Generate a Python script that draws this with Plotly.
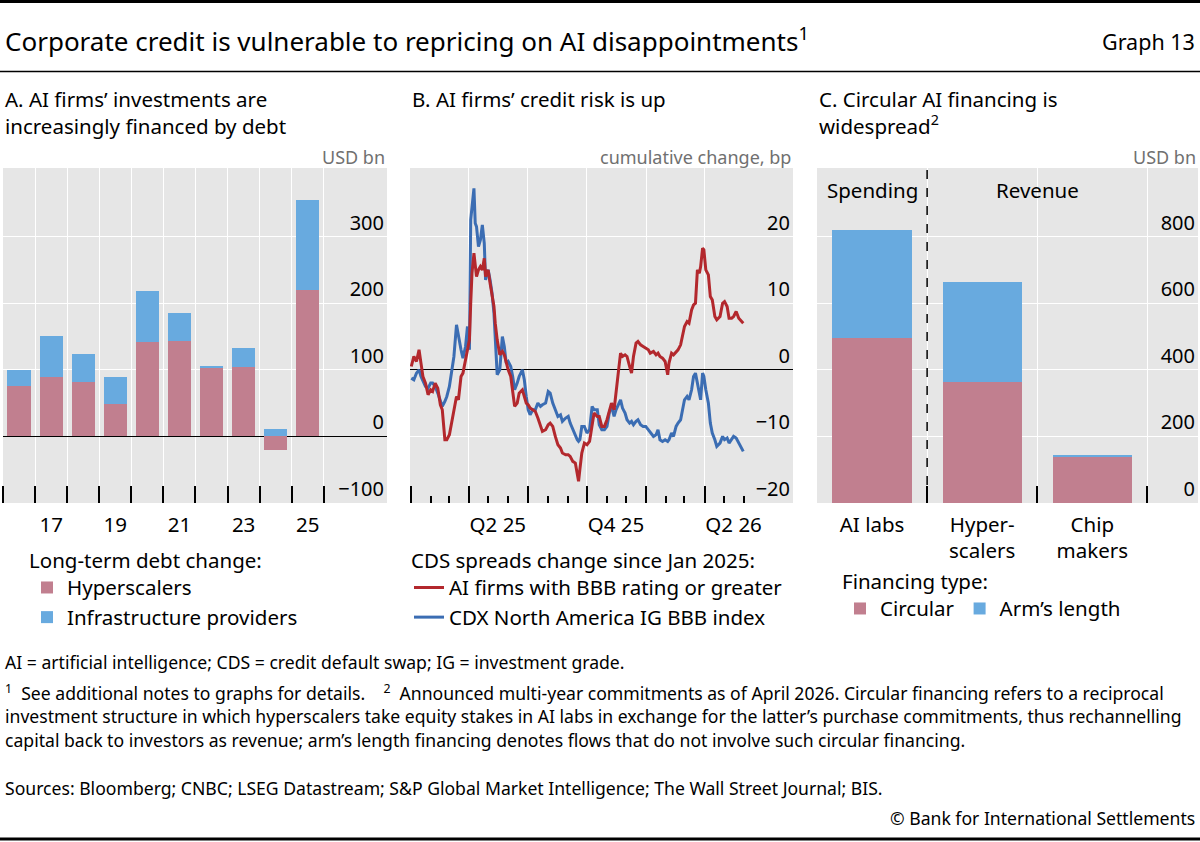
import plotly.graph_objects as go

W, H = 1200, 842
FONT = "Noto Sans"
PINK = "#c17f8f"
LIGHT_BLUE = "#68aadf"
RED = "#b3282d"
BLUE = "#3b6db3"
GREY_BG = "#e6e6e6"
UNIT_GREY = "#707070"

# ---------- Panel A: long-term debt change, USD bn ----------
years = [2016, 2017, 2018, 2019, 2020, 2021, 2022, 2023, 2024, 2025]
hyperscalers = [76, 89, 81, 48, 142, 144, 104, 104, -21, 220]
infra_providers = [24, 62, 43, 41, 76, 41, 2, 28, 11, 135]
year_ticks = [2017, 2019, 2021, 2023, 2025]
year_labels = ["17", "19", "21", "23", "25"]
a_yticks = [-100, 0, 100, 200, 300]
a_ylabels = ["\u2212100", "0", "100", "200", "300"]

# ---------- Panel B: CDS spreads, cumulative change since Jan 2025, bp ----------
cds_dates = [
    "2025-01-02", "2025-01-06", "2025-01-10", "2025-01-14", "2025-01-17", "2025-01-20", "2025-01-24",
    "2025-01-28", "2025-02-01", "2025-02-04", "2025-02-08", "2025-02-12", "2025-02-16", "2025-02-19",
    "2025-02-23", "2025-02-26", "2025-03-02", "2025-03-05", "2025-03-09", "2025-03-13", "2025-03-16",
    "2025-03-20", "2025-03-23", "2025-03-27", "2025-03-30", "2025-04-02", "2025-04-04", "2025-04-06",
    "2025-04-09", "2025-04-11", "2025-04-13", "2025-04-16", "2025-04-19", "2025-04-22", "2025-04-25",
    "2025-04-27", "2025-05-01", "2025-05-04", "2025-05-07", "2025-05-10", "2025-05-12", "2025-05-15",
    "2025-05-19", "2025-05-23", "2025-05-26", "2025-05-29", "2025-06-01", "2025-06-05", "2025-06-08",
    "2025-06-11", "2025-06-15", "2025-06-18", "2025-06-23", "2025-06-26", "2025-06-29", "2025-07-02",
    "2025-07-05", "2025-07-09", "2025-07-13", "2025-07-17", "2025-07-21", "2025-07-24", "2025-07-29",
    "2025-08-02", "2025-08-05", "2025-08-09", "2025-08-13", "2025-08-17", "2025-08-21", "2025-08-24",
    "2025-08-29", "2025-09-02", "2025-09-05", "2025-09-09", "2025-09-13", "2025-09-16", "2025-09-18",
    "2025-09-20", "2025-09-23", "2025-09-27", "2025-10-01", "2025-10-05", "2025-10-09", "2025-10-12",
    "2025-10-17", "2025-10-20", "2025-10-24", "2025-10-28",
    "2025-11-01", "2025-11-05", "2025-11-08", "2025-11-12", "2025-11-15", "2025-11-19", "2025-11-22",
    "2025-11-25", "2025-11-29", "2025-12-02", "2025-12-06", "2025-12-09", "2025-12-12", "2025-12-16",
    "2025-12-19", "2025-12-23", "2025-12-27", "2025-12-31", "2026-01-04", "2026-01-07", "2026-01-12",
    "2026-01-16", "2026-01-19", "2026-01-22", "2026-01-26", "2026-01-30", "2026-02-03", "2026-02-05",
    "2026-02-09", "2026-02-12", "2026-02-16", "2026-02-19", "2026-02-23", "2026-02-26", "2026-03-01",
    "2026-03-05", "2026-03-08", "2026-03-12", "2026-03-15", "2026-03-18", "2026-03-21", "2026-03-24",
    "2026-03-26", "2026-03-29", "2026-03-31", "2026-04-03", "2026-04-07", "2026-04-10", "2026-04-13",
    "2026-04-17", "2026-04-20", "2026-04-25", "2026-04-29", "2026-05-02", "2026-05-06", "2026-05-09",
    "2026-05-13", "2026-05-16", "2026-05-20", "2026-05-24", "2026-05-28", "2026-05-31",
]
ai_firms_bbb = [
    0.5, 2.0, 1.25, 3.0, 1.0, -1.0, -2.0, -3.75, -3.0, -3.25,
    -2.0, -2.75, -5.25, -6.0, -10.5, -10.5, -9.75, -8.0, -6.0, -4.0,
    -4.5, -1.0, -0.5, 1.5, 3.0, 4.5, 10.0, 14.5, 17.5, 16.0,
    14.0, 15.0, 15.5, 15.0, 16.75, 14.0, 15.0, 13.0, 11.5, 9.5,
    7.0, 4.5, 2.25, 2.75, 2.25, 1.0, 0.0, -1.0, -3.0, -5.5,
    -5.0, -3.5, -3.0, -4.0, -5.0, -5.25, -5.75, -6.0, -6.25, -7.25,
    -8.5, -9.25, -9.0, -8.25, -8.0, -8.5, -10.0, -11.25, -11.75, -12.5,
    -12.75, -12.75, -13.0, -13.75, -14.0, -15.5, -16.75, -15.0, -12.5, -11.0,
    -11.25, -10.75, -8.0, -6.5, -7.0, -7.0, -8.5, -8.5,
    -7.5, -6.0, -5.0, -6.0, -3.0, 0.0, 2.5, 2.0, 2.25, 2.0,
    0.5, -0.5, 2.0, 4.0, 4.25, 3.75, 3.5, 3.25, 3.0, 2.5,
    2.75, 2.25, 2.5, 2.0, 1.75, 1.25, -0.75, 1.0, 2.5, 2.25,
    2.75, 3.0, 3.75, 5.0, 6.5, 7.25, 7.0, 9.0, 9.75, 10.0,
    15.0, 14.5, 15.5, 18.25, 18.0, 15.0, 14.25, 11.0, 10.5, 8.0,
    7.5, 8.0, 10.0, 10.25, 9.5, 7.75, 7.75, 8.0, 8.75, 7.75,
    7.25, 7.0,
]
cdx_ig_bbb = [
    -1.25, -1.5, -0.5, 0.0, -1.0, -1.75, -2.5, -2.75, -2.0, -2.0,
    -2.5, -3.5, -4.5, -5.5, -4.75, -4.0, -2.5, -0.75, 2.0, 6.75,
    5.0, 3.0, 1.75, 3.5, 6.5, 3.0, 22.5, 24.5, 27.25, 22.0,
    21.5, 18.5, 19.5, 21.75, 19.0, 13.5, 15.0, 13.5, 11.5, 8.5,
    4.0, -0.75, 0.0, 5.0, 3.5, 1.0, 1.25, 0.5, -1.0, -3.0,
    -2.0, -1.0, 0.0, -1.5, -4.0, -6.0, -6.75, -6.0, -6.0, -5.0,
    -5.5, -5.25, -5.0, -3.25, -3.5, -5.0, -6.0, -7.0, -6.75, -7.75,
    -7.25, -7.0, -8.0, -9.0, -10.0, -10.5, -10.75, -10.5, -8.5, -8.5,
    -9.5, -9.0, -5.5, -6.0, -6.0, -8.25, -9.0, -9.0,
    -8.5, -6.25, -5.5, -7.0, -6.0, -5.0, -4.5, -5.75, -6.5, -7.5,
    -8.0, -7.75, -8.25, -7.75, -7.5, -8.25, -8.5, -8.5, -9.0, -9.5,
    -10.0, -9.75, -9.0, -10.5, -10.75, -10.5, -10.75, -10.5, -9.5, -10.0,
    -8.5, -8.0, -7.5, -6.0, -4.5, -4.0, -4.5, -3.0, -1.0, -0.5,
    -2.0, -3.5, -4.5, -0.5, -1.0, -3.0, -5.0, -8.0, -9.5, -10.5,
    -11.5, -11.0, -10.0, -10.5, -10.25, -11.0, -10.5, -10.0, -10.25, -11.0,
    -11.75, -12.25,
]
quarter_starts = ["2025-01-01", "2025-04-01", "2025-07-01", "2025-10-01", "2026-01-01", "2026-04-01"]
month_starts = [
    "2025-02-01", "2025-03-01", "2025-05-01", "2025-06-01", "2025-08-01", "2025-09-01",
    "2025-11-01", "2025-12-01", "2026-02-01", "2026-03-01", "2026-05-01", "2026-06-01",
]
quarter_label_dates = ["2025-05-16", "2025-11-15", "2026-05-16"]
quarter_labels = ["Q2 25", "Q4 25", "Q2 26"]
b_yticks = [-20, -10, 0, 10, 20]
b_ylabels = ["\u221220", "\u221210", "0", "10", "20"]

# ---------- Panel C: announced multi-year commitments, USD bn ----------
c_categories = ["AI labs", "Hyper-<br>scalers", "Chip<br>makers"]
c_pos = [0, 1, 2]
circular = [495, 363, 137]
arms_length = [325, 301, 7]
c_headers = ["Spending", "Revenue"]
c_header_pos = [0, 1.5]
c_yticks = [0, 200, 400, 600, 800]
c_ylabels = ["0", "200", "400", "600", "800"]

panel_titles = [
    "A. AI firms\u2019 investments are<br>increasingly financed by debt",
    "B. AI firms\u2019 credit risk is up",
    "C. Circular AI financing is<br>widespread<sup>2</sup>",
]
footnotes = [
    "AI = artificial intelligence; CDS = credit default swap; IG = investment grade.",
    "<sup>1</sup>  See additional notes to graphs for details.    <sup>2</sup>  Announced multi-year commitments as of April 2026. Circular financing refers to a reciprocal",
    "investment structure in which hyperscalers take equity stakes in AI labs in exchange for the latter\u2019s purchase commitments, thus rechannelling",
    "capital back to investors as revenue; arm\u2019s length financing denotes flows that do not involve such circular financing.",
]
sources = "Sources: Bloomberg; CNBC; LSEG Datastream; S&P Global Market Intelligence; The Wall Street Journal; BIS."


def py(y_px):
    return 1 - y_px / H


def px(x_px):
    return x_px / W


PLOT_TOP, PLOT_BOTTOM = 168, 503
y_dom = [py(PLOT_BOTTOM), py(PLOT_TOP)]

fig = go.Figure()

# Panel A bars
fig.add_trace(go.Bar(x=years, y=hyperscalers, name="Hyperscalers", marker=dict(color=PINK, line_width=0),
                     width=0.72, xaxis="x", yaxis="y", legend="legend"))
fig.add_trace(go.Bar(x=years, y=infra_providers, name="Infrastructure providers",
                     marker=dict(color=LIGHT_BLUE, line_width=0), width=0.72,
                     xaxis="x", yaxis="y", legend="legend"))

# Panel B lines (red sits on an overlay axis that carries the monthly ticks, so it is drawn on top)
fig.add_trace(go.Scatter(x=cds_dates, y=cdx_ig_bbb, mode="lines", name="CDX North America IG BBB index",
                         line=dict(color=BLUE, width=3), xaxis="x2", yaxis="y2", legend="legend2"))
fig.add_trace(go.Scatter(x=cds_dates, y=ai_firms_bbb, mode="lines", name="AI firms with BBB rating or greater",
                         line=dict(color=RED, width=3), xaxis="x4", yaxis="y2", legend="legend2"))

# Panel C bars
fig.add_trace(go.Bar(x=c_pos, y=circular, name="Circular", marker=dict(color=PINK, line_width=0),
                     width=0.72, xaxis="x3", yaxis="y3", legend="legend3"))
fig.add_trace(go.Bar(x=c_pos, y=arms_length, name="Arm\u2019s length", marker=dict(color=LIGHT_BLUE, line_width=0),
                     width=0.72, xaxis="x3", yaxis="y3", legend="legend3"))

tick_font = dict(family=FONT, size=20.5, color="black")
minor_common = dict(ticks="inside", ticklen=17, tickwidth=1.5, tickcolor="black",
                    showgrid=True, gridcolor="white", gridwidth=1.3)
yaxis_common = dict(side="right", ticks="", ticklabelposition="inside top", showgrid=True,
                    gridcolor="white", gridwidth=1.3, tickfont=dict(family=FONT, size=20, color="black"),
                    showline=False, fixedrange=True, tickmode="array")
xaxis_common = dict(ticks="", showgrid=False, zeroline=False, showline=False, tickfont=tick_font,
                    ticklabelstandoff=7, fixedrange=True, tickmode="array")
legend_font = dict(family=FONT, size=20.5, color="black")

year_edges = [y - 0.5 for y in years] + [years[-1] + 0.5]
c_edges = [p + 0.5 for p in c_pos]

fig.update_layout(
    width=W, height=H,
    margin=dict(l=0, r=0, t=0, b=0),
    paper_bgcolor="white",
    plot_bgcolor=GREY_BG,
    barmode="relative",
    bargap=0,
    font=dict(family=FONT, color="black"),
    xaxis=dict(domain=[px(3), px(387)], range=[2015.5, 2027.47], anchor="y",
               tickvals=year_ticks, ticktext=year_labels,
               minor=dict(tickvals=year_edges, **minor_common), **xaxis_common),
    yaxis=dict(domain=y_dom, range=[-100, 403], anchor="x", tickvals=a_yticks, ticktext=a_ylabels,
               zeroline=True, zerolinecolor="black", zerolinewidth=1.3, **yaxis_common),
    xaxis2=dict(domain=[px(410), px(793)], range=["2024-12-31", "2026-08-16"], type="date", anchor="y2",
                tickvals=quarter_label_dates, ticktext=quarter_labels,
                minor=dict(tickvals=quarter_starts, **minor_common), **xaxis_common),
    xaxis4=dict(overlaying="x2", matches="x2", anchor="y2", type="date", tickmode="array",
                tickvals=month_starts, ticks="inside", ticklen=7, tickwidth=1.5, tickcolor="black",
                showticklabels=False, showgrid=False, zeroline=False, showline=False, fixedrange=True),
    yaxis2=dict(domain=y_dom, range=[-20, 30.3], anchor="x2", tickvals=b_yticks, ticktext=b_ylabels,
                zeroline=True, zerolinecolor="black", zerolinewidth=1.3, **yaxis_common),
    xaxis3=dict(domain=[px(817), px(1198)], range=[-0.5, 2.96], anchor="y3",
                tickvals=c_pos, ticktext=c_categories,
                minor=dict(tickvals=c_edges, **minor_common), **xaxis_common),
    yaxis3=dict(domain=y_dom, range=[0, 1006], anchor="x3", tickvals=c_yticks, ticktext=c_ylabels,
                zeroline=False, **yaxis_common),
    legend=dict(x=px(27), y=py(541), xanchor="left", yanchor="top", orientation="v", traceorder="normal",
                title=dict(text="Long-term debt change:", font=legend_font),
                font=legend_font, bgcolor="rgba(0,0,0,0)", itemwidth=30),
    legend2=dict(x=px(409), y=py(541), xanchor="left", yanchor="top", orientation="v", traceorder="reversed",
                 title=dict(text="CDS spreads change since Jan 2025:", font=legend_font),
                 font=legend_font, bgcolor="rgba(0,0,0,0)", itemwidth=30),
    legend3=dict(x=px(840), y=py(562), xanchor="left", yanchor="top", orientation="h", traceorder="normal",
                 title=dict(text="Financing type:", font=legend_font, side="top"),
                 font=legend_font, bgcolor="rgba(0,0,0,0)", itemwidth=30),
)

annotations = [
    dict(text="Corporate credit is vulnerable to repricing on AI disappointments<sup>1</sup>",
         x=px(3), y=py(40), xanchor="left", yanchor="middle", font=dict(size=26)),
    dict(text="Graph 13", x=px(1197), y=py(42), xanchor="right", yanchor="middle", font=dict(size=21.5)),
]
for title, left in zip(panel_titles, [3, 410, 817]):
    annotations.append(dict(text=title, x=px(left), y=py(83), xanchor="left", yanchor="top", align="left",
                            font=dict(size=20.5)))
for axis_letter, unit in [("", "USD bn"), ("2", "cumulative change, bp"), ("3", "USD bn")]:
    annotations.append(dict(text=unit, xref=f"x{axis_letter} domain", yref=f"y{axis_letter} domain",
                            x=1, y=1 + 11 / (PLOT_BOTTOM - PLOT_TOP), xanchor="right", yanchor="middle",
                            font=dict(size=18, color=UNIT_GREY)))
for header, pos in zip(c_headers, c_header_pos):
    annotations.append(dict(text=header, xref="x3", yref="y3 domain", x=pos,
                            y=(PLOT_BOTTOM - 190) / (PLOT_BOTTOM - PLOT_TOP),
                            xanchor="center", yanchor="middle", font=dict(size=20.5)))
for i, line in enumerate(footnotes):
    top = 662 if i == 0 else 692 + (i - 1) * 24
    annotations.append(dict(text=line, x=px(3), y=py(top), xanchor="left", yanchor="middle",
                            font=dict(size=17.6)))
annotations.append(dict(text=sources, x=px(3), y=py(788), xanchor="left", yanchor="middle", font=dict(size=17.6)))
annotations.append(dict(text="\u00a9 Bank for International Settlements", x=px(1197), y=py(818),
                        xanchor="right", yanchor="middle", font=dict(size=17.6)))
for a in annotations:
    a.setdefault("xref", "paper")
    a.setdefault("yref", "paper")
    a["showarrow"] = False
    a["font"] = dict(family=FONT, color=a["font"].get("color", "black"), size=a["font"]["size"])
fig.update_layout(annotations=annotations)

shapes = [
    dict(type="line", xref="paper", yref="paper", x0=0, x1=1, y0=py(1.5), y1=py(1.5),
         line=dict(color="black", width=3)),
    dict(type="line", xref="paper", yref="paper", x0=0, x1=1, y0=py(71.5), y1=py(71.5),
         line=dict(color="black", width=1.5)),
    dict(type="line", xref="paper", yref="paper", x0=0, x1=1, y0=py(839), y1=py(839),
         line=dict(color="black", width=3)),
    # Spending / revenue divider in panel C
    dict(type="line", xref="x3", yref="y3 domain", x0=c_edges[0], x1=c_edges[0], y0=0, y1=1,
         line=dict(color="black", width=1.5, dash="dash")),
]
fig.update_layout(shapes=shapes)

# the page's default body margin would push the figure off its 1200x842 frame
fig.write_html("out.html", config={"displayModeBar": False},
               post_script="document.body.style.margin = '0';")
